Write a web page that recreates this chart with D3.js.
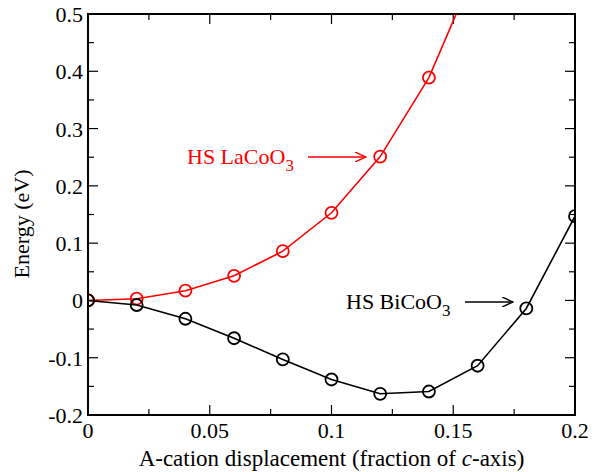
<!DOCTYPE html>
<html>
<head>
<meta charset="utf-8">
<script src="https://cdn.jsdelivr.net/npm/d3@7"></script>
<style>
  body { margin: 0; background: #fff; }
</style>
</head>
<body>
<div id="chart"></div>
<script>
// displacement values (fraction of c-axis)
const xValues = [0, 0.02, 0.04, 0.06, 0.08, 0.1, 0.12, 0.14, 0.16, 0.18, 0.2];
// HS LaCoO3 energies (eV); last point lies above the plot
const laValues = [0, 0.003, 0.017, 0.043, 0.086, 0.153, 0.251, 0.389, 0.587];
// HS BiCoO3 energies (eV)
const biValues = [0, -0.008, -0.032, -0.066, -0.103, -0.138, -0.163, -0.159, -0.114, -0.014, 0.147];

const xTicks = [0, 0.05, 0.1, 0.15, 0.2];
const xTickLabels = ["0", "0.05", "0.1", "0.15", "0.2"];
const yTicks = [-0.2, -0.1, 0, 0.1, 0.2, 0.3, 0.4, 0.5];
const yTickLabels = ["-0.2", "-0.1", "0", "0.1", "0.2", "0.3", "0.4", "0.5"];

const width = 602, height = 472;
const margin = { left: 88, right: 27, top: 14, bottom: 57 };
const serif = "'Liberation Serif', 'Times New Roman', Tinos, 'DejaVu Serif', serif";

const svg = d3.select('#chart').append('svg')
    .attr('width', width)
    .attr('height', height)
    .style('font-family', serif);

const x = d3.scaleLinear().domain([0, 0.2]).range([margin.left, width - margin.right]);
const y = d3.scaleLinear().domain([-0.2, 0.5]).range([height - margin.bottom, margin.top]);

// clip region for the data lines
svg.append('clipPath').attr('id', 'plotclip')
  .append('rect')
    .attr('x', margin.left).attr('y', margin.top)
    .attr('width', x(0.2) - x(0)).attr('height', y(-0.2) - y(0.5));

// ticks, pointing inward on all four sides
const xMinor = d3.range(0, 0.2001, 0.025);
const yMinor = d3.range(-0.2, 0.5001, 0.05);
const majorLen = 10, minorLen = 6;
const tickG = svg.append('g').attr('stroke', '#000').attr('stroke-width', 1.2);

xMinor.forEach((v, i) => {
    const len = i % 2 === 0 ? majorLen : minorLen;
    tickG.append('line').attr('x1', x(v)).attr('x2', x(v)).attr('y1', y(-0.2)).attr('y2', y(-0.2) - len);
    tickG.append('line').attr('x1', x(v)).attr('x2', x(v)).attr('y1', y(0.5)).attr('y2', y(0.5) + len);
});
yMinor.forEach((v, i) => {
    const len = i % 2 === 0 ? majorLen : minorLen;
    tickG.append('line').attr('x1', x(0)).attr('x2', x(0) + len).attr('y1', y(v)).attr('y2', y(v));
    tickG.append('line').attr('x1', x(0.2)).attr('x2', x(0.2) - len).attr('y1', y(v)).attr('y2', y(v));
});

// frame
svg.append('rect')
    .attr('x', x(0)).attr('y', y(0.5))
    .attr('width', x(0.2) - x(0)).attr('height', y(-0.2) - y(0.5))
    .attr('fill', 'none').attr('stroke', '#000').attr('stroke-width', 2);

// tick labels
svg.append('g').selectAll('text')
    .data(xTicks)
    .enter().append('text')
    .attr('x', d => x(d))
    .attr('y', y(-0.2) + 23)
    .attr('text-anchor', 'middle')
    .style('font-family', serif)
    .attr('font-size', 22)
    .text((d, i) => xTickLabels[i]);

svg.append('g').selectAll('text')
    .data(yTicks)
    .enter().append('text')
    .attr('x', x(0) - 5)
    .attr('y', d => y(d) + 8)
    .attr('text-anchor', 'end')
    .style('font-family', serif)
    .attr('font-size', 22)
    .text((d, i) => yTickLabels[i]);

// axis titles
const xTitle = svg.append('text')
    .attr('x', (x(0) + x(0.2)) / 2)
    .attr('y', 466)
    .attr('text-anchor', 'middle')
    .style('font-family', serif)
    .attr('font-size', 23);
xTitle.append('tspan').text('A-cation displacement (fraction of ');
xTitle.append('tspan').attr('font-style', 'italic').text('c');
xTitle.append('tspan').text('-axis)');

svg.append('text')
    .attr('transform', 'translate(29, 224) rotate(-90)')
    .attr('text-anchor', 'middle')
    .style('font-family', serif)
    .attr('font-size', 22)
    .text('Energy (eV)');

// series
const series = [
    { name: 'La', color: '#ff0000', values: laValues },
    { name: 'Bi', color: '#000000', values: biValues }
];

const line = d3.line().x(d => x(d[0])).y(d => y(d[1]));
const plot = svg.append('g').attr('clip-path', 'url(#plotclip)');

series.forEach(s => {
    const pts = s.values.map((v, i) => [xValues[i], v]);
    plot.append('path')
        .datum(pts)
        .attr('d', line)
        .attr('fill', 'none')
        .attr('stroke', s.color)
        .attr('stroke-width', 1.6);
    plot.selectAll('circle.' + s.name)
        .data(pts.filter(d => d[1] <= 0.5))
        .enter().append('circle')
        .attr('class', s.name)
        .attr('cx', d => x(d[0]))
        .attr('cy', d => y(d[1]))
        .attr('r', 6)
        .attr('fill', 'none')
        .attr('stroke', s.color)
        .attr('stroke-width', 1.8);
});

// annotations with arrows
svg.append('defs').selectAll('marker')
    .data(['#ff0000', '#000000'])
    .enter().append('marker')
    .attr('id', (d, i) => 'arrow' + i)
    .attr('viewBox', '0 0 12 10')
    .attr('refX', 11).attr('refY', 5)
    .attr('markerWidth', 12).attr('markerHeight', 10)
    .attr('markerUnits', 'userSpaceOnUse')
    .attr('orient', 'auto')
  .append('path')
    .attr('d', 'M0,0 L11,5 L0,10')
    .attr('fill', 'none')
    .attr('stroke', d => d)
    .attr('stroke-width', 1.4);

function label(tx, ty, main, color, ax1, ax2, ay, markerId) {
    const t = svg.append('text')
        .attr('x', tx).attr('y', ty)
        .style('font-family', serif)
        .attr('font-size', 22)
        .attr('fill', color);
    t.append('tspan').text(main);
    t.append('tspan').attr('font-size', 17).attr('dy', 7).text('3');
    svg.append('line')
        .attr('x1', ax1).attr('x2', ax2).attr('y1', ay).attr('y2', ay)
        .attr('stroke', color).attr('stroke-width', 1.6)
        .attr('marker-end', `url(#${markerId})`);
}

label(187, 164, 'HS LaCoO', '#ff0000', 308, 366, 157, 'arrow0');
label(346, 309, 'HS BiCoO', '#000000', 465, 513, 302, 'arrow1');
</script>
</body>
</html>
